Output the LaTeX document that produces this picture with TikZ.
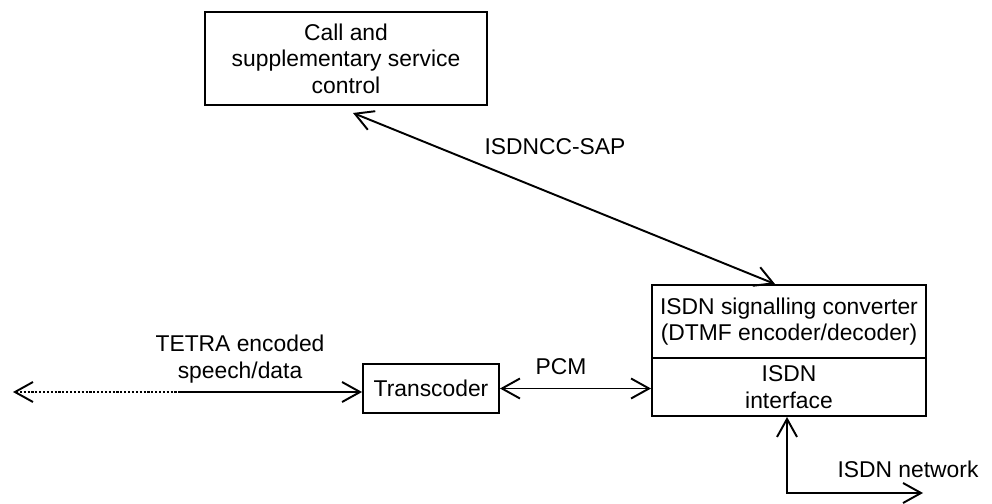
\documentclass[tikz,border=0pt]{standalone}
\usepackage{fontspec}
\setmainfont{Liberation Sans}
\usetikzlibrary{arrows.meta}

\begin{document}
\begin{tikzpicture}[
  x=0.2mm, y=-0.2mm,
  >={Straight Barb[length=3.6mm,width=4mm]},
  line width=1.1pt,
  every node/.style={font=\fontsize{13}{15}\selectfont},
  box/.style={draw, rectangle, inner sep=0pt, align=center},
  lbl/.style={align=center, inner sep=1pt}
]
  \useasboundingbox (0,0) rectangle (992,503);

  \node[box, minimum width=56.4mm, minimum height=18.6mm] (ctrl) at (346,58.5)
    {Call and\\supplementary service\\control};
  \node[box, minimum width=54.8mm, minimum height=14.6mm] (conv) at (789,321.5)
    {ISDN signalling converter\\(DTMF encoder/decoder)};
  \node[box, minimum width=54.8mm, minimum height=11.6mm] (ifc) at (789,387)
    {ISDN\\interface};
  \node[box, minimum width=27.2mm, minimum height=9.8mm] (trans) at (431,388.5)
    {Transcoder};

  \coordinate (tl) at (13,392);
  \coordinate (tm) at (180,392);
  \coordinate (net) at (923,493);

  \draw[<->] ([shift={(7,7)}]ctrl.south) -- ([xshift=-2.8mm]conv.north);
  \draw[<->] (trans.east) -- (trans.east -| ifc.west);
  \draw[<-, dash pattern=on 1.2pt off 1pt] (tl) -- (tm);
  \draw[->] (tm) -- (tm -| trans.west);
  \draw[<->] ([xshift=-0.4mm]ifc.south) |- (net);

  \node[lbl] (sap) at (555,147) {ISDNCC-SAP};
  \node[lbl] (pcm) at (561,367) {PCM};
  \node[lbl] (tetra) at (240,359) {TETRA encoded\\speech/data};
  \node[lbl] (isdnnet) at (908,469) {ISDN network};
\end{tikzpicture}
\end{document}
